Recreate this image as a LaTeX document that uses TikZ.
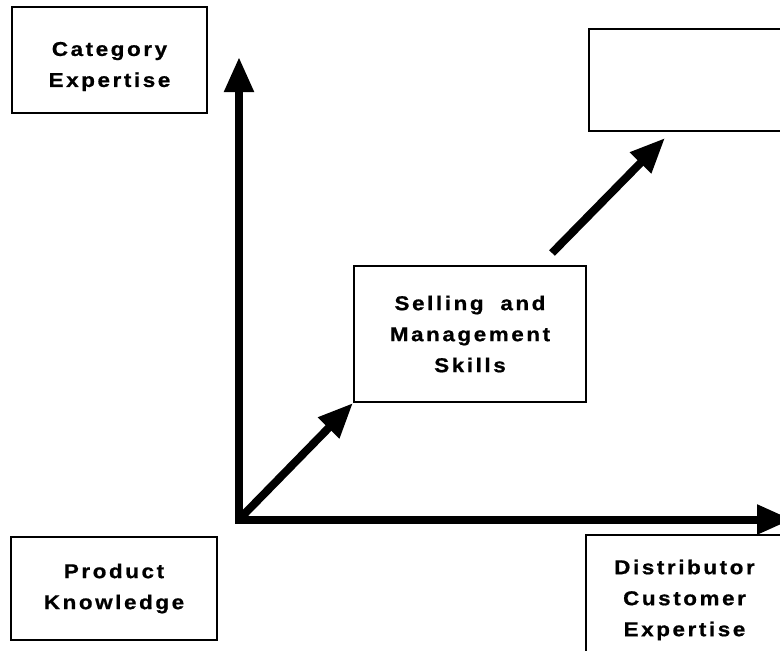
\documentclass[tikz,border=0pt]{standalone}
\usepackage{fontspec}
\newfontfamily\boxfont{Liberation Sans}[LetterSpace=13,FakeStretch=1.12,FakeBold=0.8]
\usetikzlibrary{arrows.meta,positioning}

\tikzset{
  box/.style={draw,line width=2pt,align=center,inner sep=0pt,
    font=\boxfont\bfseries\fontsize{20}{31}\selectfont},
  axis/.style={line width=8pt,miter limit=4,
    {Triangle[length=35pt,width=28pt]}-{Triangle[length=35pt,width=28pt]}},
  growarrow/.style={line width=8pt,-{Triangle[length=35pt,width=28pt]}}
}

\begin{document}
\begin{tikzpicture}[x=1pt,y=-1pt]
\useasboundingbox (0,0) rectangle (780,651);
% boxes
\node[box,minimum width=195pt,minimum height=106pt] (cat) at (109.5,60) {\rule{0pt}{27pt}Category\\Expertise};
\node[box,minimum width=206pt,minimum height=103pt] (prod) at (114,588.5) {Product\\Knowledge};
\node[box,minimum width=232pt,minimum height=136pt] (sell) at (470,334) {Selling\hspace{0.4em} and\\Management\\Skills};
\node[box,minimum width=200pt,minimum height=102pt,anchor=south west] (top) at (588,132) {};
\node[box,minimum width=197pt,minimum height=130pt] (dist) at (684.5,600) {Distributor\\Customer\\Expertise};
% axes
\coordinate (o) at (239,519.5);
\coordinate (ytip) at (239,57);
\coordinate (xtip) at (792,519.5);
\draw[axis] (ytip) -- (o) -- (xtip);
% diagonal arrows
\draw[growarrow] (o) -- (sell.south west);
\coordinate (tail) at (552,253);
\coordinate (head) at (665,138);
\draw[growarrow] (tail) -- (head);
\end{tikzpicture}
\end{document}
